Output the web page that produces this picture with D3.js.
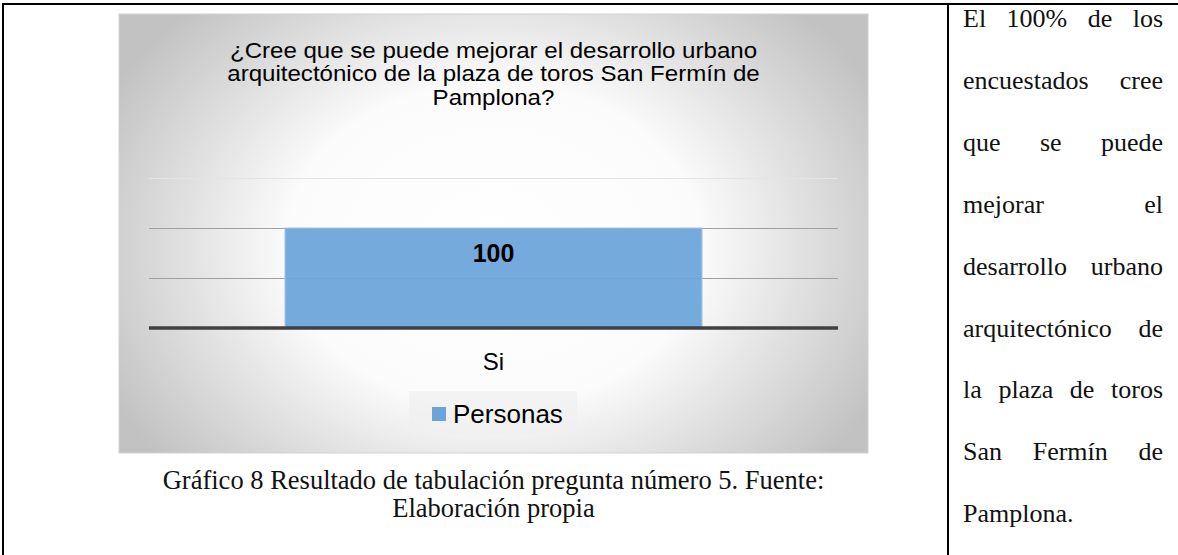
<!DOCTYPE html>
<html>
<head>
<meta charset="utf-8">
<script src="https://cdn.jsdelivr.net/npm/d3@7"></script>
<style>
  body { margin: 0; background: #fff; }
  svg { display: block; }
</style>
</head>
<body>
<div id="page"></div>
<script>
// chart data
const categories = ["Si"];
const values = [100];
const seriesName = "Personas";
const yTicks = [0, 50, 100, 150];
const titleLines = [
  "¿Cree que se puede mejorar el desarrollo urbano",
  "arquitectónico de la plaza de toros San Fermín de",
  "Pamplona?"
];
const captionLines = [
  "Gráfico 8 Resultado de tabulación pregunta número 5. Fuente:",
  "Elaboración propia"
];
const sideLines = [
  "El 100% de los",
  "encuestados cree",
  "que se puede",
  "mejorar el",
  "desarrollo urbano",
  "arquitectónico de",
  "la plaza de toros",
  "San Fermín de",
  "Pamplona."
];

const sans = "'Liberation Sans', Arial, sans-serif";
const serif = "'Liberation Serif', 'Times New Roman', serif";

const W = 1178, H = 555;
const svg = d3.select("#page").append("svg").attr("width", W).attr("height", H);

// table borders
svg.append("line").attr("x1", 2).attr("x2", W).attr("y1", 4).attr("y2", 4)
  .attr("stroke", "#000").attr("stroke-width", 2);
svg.append("line").attr("x1", 3).attr("x2", 3).attr("y1", 3).attr("y2", H)
  .attr("stroke", "#000").attr("stroke-width", 2);
svg.append("line").attr("x1", 948).attr("x2", 948).attr("y1", 3).attr("y2", H)
  .attr("stroke", "#000").attr("stroke-width", 2);

// chart box with radial gradient
const box = { x: 119, y: 14, w: 749, h: 439 };
const cx = box.x + box.w / 2;
const gcy = 245;

const defs = svg.append("defs");
const grad = defs.append("radialGradient").attr("id", "bg")
  .attr("gradientUnits", "userSpaceOnUse")
  .attr("cx", cx).attr("cy", gcy).attr("r", 430)
  .attr("gradientTransform", `translate(${cx},${gcy}) scale(1,0.78) translate(${-cx},${-gcy})`);
grad.append("stop").attr("offset", "0%").attr("stop-color", "#ffffff");
grad.append("stop").attr("offset", "48%").attr("stop-color", "#fbfbfb");
grad.append("stop").attr("offset", "100%").attr("stop-color", "#c2c2c2");

svg.append("rect").attr("x", box.x).attr("y", box.y).attr("width", box.w).attr("height", box.h)
  .attr("fill", "url(#bg)").attr("stroke", "#d2d2d2").attr("stroke-width", 1);

// title (glyphs look a bit wide in the original, so stretch horizontally)
svg.append("g")
  .attr("transform", `translate(${cx},0) scale(1.095,1) translate(${-cx},0)`)
  .selectAll("text").data(titleLines).join("text")
  .attr("x", cx)
  .attr("y", (d, i) => 58 + i * 23.3)
  .attr("text-anchor", "middle")
  .style("font-family", sans)
  .style("font-size", "22px")
  .attr("fill", "#000")
  .text(d => d);

// scales
const plot = { left: 149, right: 838, top: 178, bottom: 328 };
const x = d3.scaleBand().domain(categories).range([plot.left, plot.right])
  .paddingInner(0).paddingOuter(0.326);
const y = d3.scaleLinear().domain([0, 150]).range([plot.bottom, plot.top]);

// gridlines
svg.append("g").selectAll("line").data(yTicks.filter(t => t > 0)).join("line")
  .attr("x1", plot.left).attr("x2", plot.right)
  .attr("y1", d => Math.round(y(d)) + 0.5).attr("y2", d => Math.round(y(d)) + 0.5)
  .attr("stroke", d => d === 150 ? "#e4e4e4" : "#a0a0a0")
  .attr("stroke-width", 1);

// bars
svg.append("g").selectAll("rect").data(values).join("rect")
  .attr("x", (d, i) => x(categories[i]))
  .attr("y", d => y(d))
  .attr("width", x.bandwidth())
  .attr("height", d => y(0) - y(d))
  .attr("fill", "#6ba4da")
  .attr("fill-opacity", 0.93)
  .attr("stroke", "#a8cbec")
  .attr("stroke-width", 1);

// data labels
svg.append("g").selectAll("text").data(values).join("text")
  .attr("x", (d, i) => x(categories[i]) + x.bandwidth() / 2)
  .attr("y", d => (y(d) + y(d / 2)) / 2 + 9)
  .attr("text-anchor", "middle")
  .style("font-family", sans)
  .style("font-size", "25px")
  .style("font-weight", "bold")
  .text(d => d);

// x axis
const xAxis = svg.append("g").attr("transform", `translate(0,${plot.bottom})`)
  .call(d3.axisBottom(x).tickSize(0).tickPadding(25));
xAxis.select(".domain").attr("stroke", "#404040").attr("stroke-width", 3.5)
  .attr("d", `M${plot.left},0H${plot.right}`);
xAxis.selectAll("text")
  .style("font-family", sans)
  .style("font-size", "24px")
  .attr("fill", "#000");

// legend
const lg = svg.append("g");
lg.append("rect").attr("x", 409).attr("y", 391).attr("width", 168).attr("height", 44)
  .attr("fill", "#f0f0f0").attr("fill-opacity", 0.7);
lg.append("rect").attr("x", 432).attr("y", 407).attr("width", 14).attr("height", 14)
  .attr("fill", "#6ba4da");
lg.append("text").attr("x", 453).attr("y", 423)
  .style("font-family", sans)
  .style("font-size", "26px")
  .text(seriesName);

// caption
svg.append("g").selectAll("text").data(captionLines).join("text")
  .attr("x", cx)
  .attr("y", (d, i) => 489 + i * 28)
  .attr("text-anchor", "middle")
  .style("font-family", serif)
  .style("font-size", "26.5px")
  .attr("fill", "#111")
  .text(d => d);

// justified side text
const side = { left: 963, width: 200, base: 27, step: 61.9 };
sideLines.forEach((line, i) => {
  const words = line.split(" ");
  const g = svg.append("g");
  const nodes = words.map(w => g.append("text")
    .attr("y", side.base + i * side.step)
    .style("font-family", serif)
    .style("font-size", "26px")
    .attr("fill", "#111")
    .text(w));
  const widths = nodes.map(n => n.node().getComputedTextLength());
  const total = d3.sum(widths);
  const last = i === sideLines.length - 1;
  const gap = (last || words.length === 1) ? 6.5 : (side.width - total) / (words.length - 1);
  let px = side.left;
  nodes.forEach((n, k) => {
    n.attr("x", px);
    px += widths[k] + gap;
  });
});
</script>
</body>
</html>
